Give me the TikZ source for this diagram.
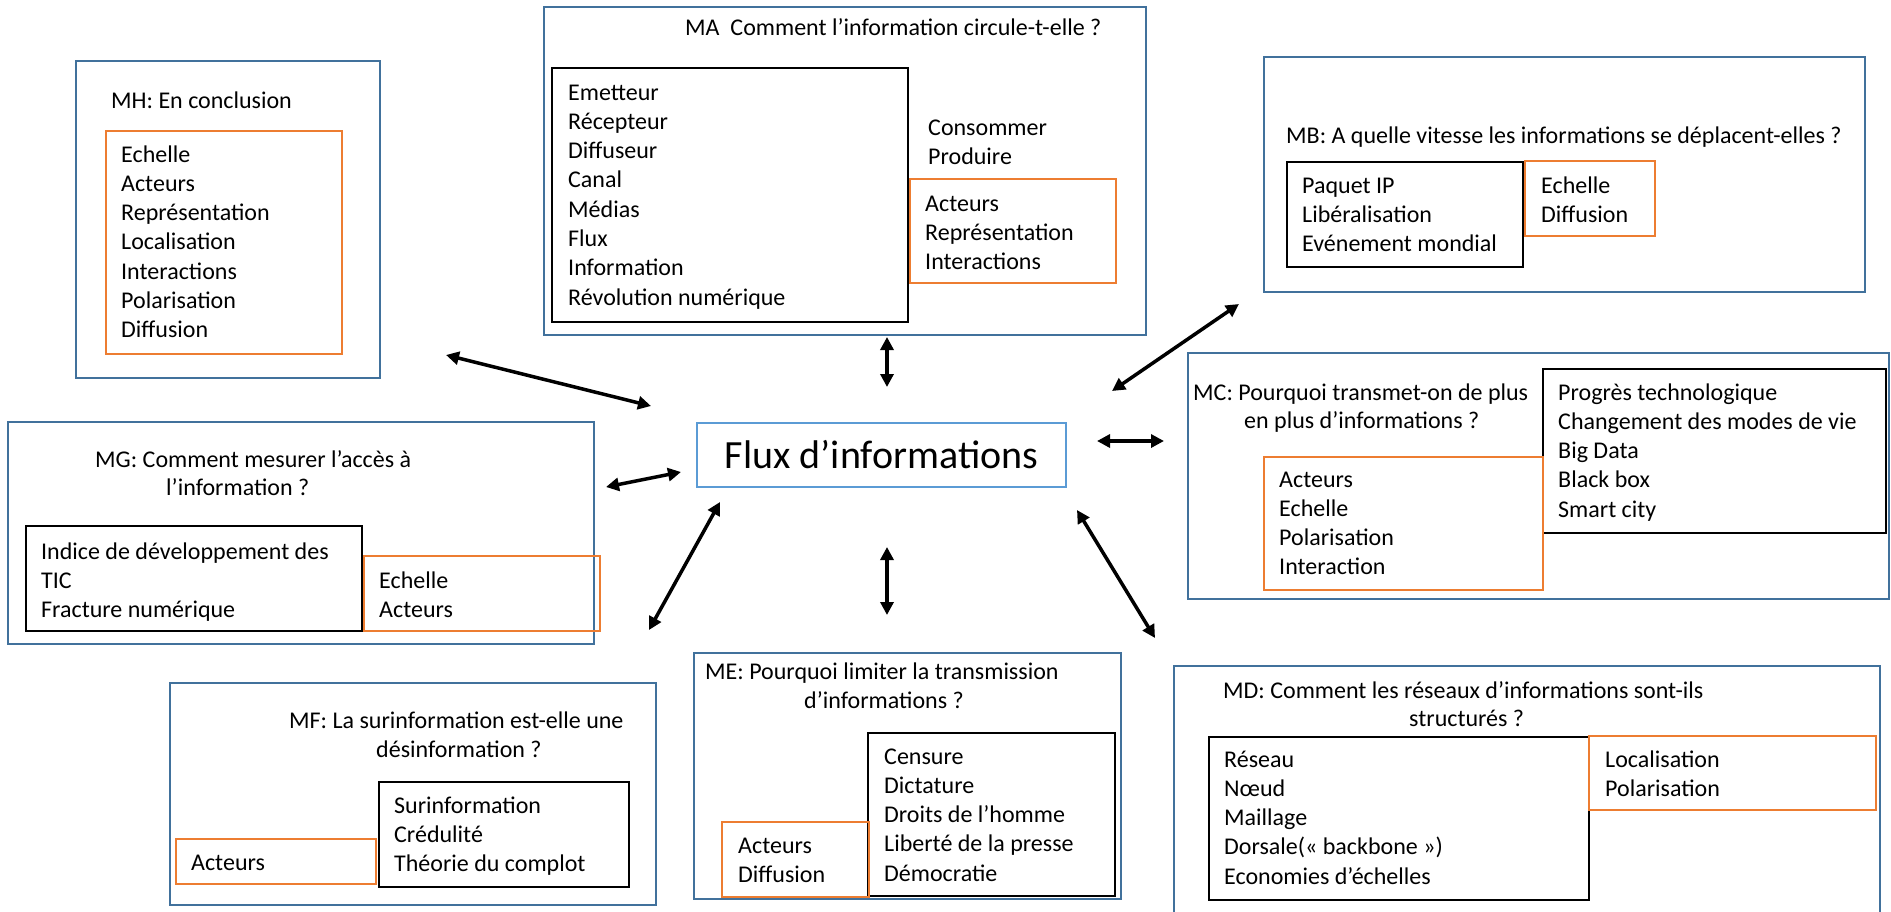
\documentclass[tikz,border=0pt]{standalone}
\usepackage{fontspec}
\setmainfont{Carlito}
\usetikzlibrary{arrows.meta}
\definecolor{boxblue}{RGB}{65,113,156}
\definecolor{boxorange}{RGB}{237,125,49}
\definecolor{fluxblue}{RGB}{91,155,213}
\tikzset{
  bluebox/.style={draw=boxblue, line width=2pt, inner sep=0pt},
  blackbox/.style={draw=black, line width=2.5pt, inner sep=0pt},
  orangebox/.style={draw=boxorange, line width=2pt, inner sep=0pt},
  fluxbox/.style={draw=fluxblue, line width=2pt, inner sep=0pt, font=\fontsize{40}{48}\selectfont},
  txt/.style={anchor=base west, inner sep=0pt, font=\fontsize{24}{29.3}\selectfont},
  dblarrow/.style={line width=3.5pt, {Triangle[length=13pt,width=13pt]}-{Triangle[length=13pt,width=13pt]}},
}
\newcommand\boxnode[6]{%
  \node[#1, minimum width={(#5)-(#3)}, minimum height={(#6)-(#4)}] (#2) at ({((#3)+(#5))/2},{((#4)+(#6))/2}) {};}
\newcommand\textlines[4]{%
  \foreach \t [count=\i from 0] in {#4} {\node[txt] (#1\i) at (#2,{#3+29.3*\i}) {\t};}}
\begin{document}
\begin{tikzpicture}[x=1pt,y=-1pt]
\fill[white] (0,0) rectangle (1891,911);
\useasboundingbox (0,0) rectangle (1891,911);
\clip (0,0) rectangle (1891,911);

% MH
\boxnode{bluebox}{MH}{76}{61}{380}{378}
\boxnode{orangebox}{MHo}{106}{131}{342}{354}
\node[txt] (MHt) at (111,108) {MH: En conclusion};
\textlines{MHl}{121}{162}{Echelle,Acteurs,Représentation,Localisation,Interactions,Polarisation,Diffusion}

% MA
\boxnode{bluebox}{MA}{544}{7}{1146}{335}
\boxnode{blackbox}{MAk}{552}{68}{908}{322}
\boxnode{orangebox}{MAo}{910}{179}{1116}{283}
\node[txt] (MAt) at (685,35) {MA\ \ Comment l’information circule-t-elle ?};
\textlines{MAl}{568}{100}{Emetteur,Récepteur,Diffuseur,Canal,Médias,Flux,Information,Révolution numérique}
\textlines{MAc}{928}{135}{Consommer,Produire}
\textlines{MAr}{925}{211}{Acteurs,Représentation,Interactions}

% MB
\boxnode{bluebox}{MB}{1264}{57}{1865}{292}
\boxnode{blackbox}{MBk}{1287}{162}{1523}{267}
\boxnode{orangebox}{MBo}{1525}{161}{1655}{236}
\node[txt] (MBt) at (1286,143) {MB: A quelle vitesse les informations se déplacent-elles ?};
\textlines{MBl}{1302}{193}{Paquet IP,Libéralisation,Evénement mondial}
\textlines{MBr}{1541}{193}{Echelle,Diffusion}

% MG
\boxnode{bluebox}{MG}{8}{422}{594}{644}
\boxnode{blackbox}{MGk}{26}{526}{362}{631}
\boxnode{orangebox}{MGo}{364}{556}{600}{631}
\node[txt] (MGt1) at (95,467) {MG: Comment mesurer l’accès à};
\node[txt] (MGt2) at (166,495) {l’information ?};
\textlines{MGl}{41}{559}{Indice de développement des,TIC,Fracture numérique}
\textlines{MGr}{379}{588}{Echelle,Acteurs}

% Centre
\node[fluxbox, minimum width=369, minimum height=64] (flux) at (881.5,455) {Flux d’informations};

% MC
\boxnode{bluebox}{MC}{1188}{353}{1889}{599}
\boxnode{blackbox}{MCk}{1543}{369}{1886}{533}
\boxnode{orangebox}{MCo}{1264}{457}{1543}{590}
\node[txt] (MCt1) at (1193,400) {MC: Pourquoi transmet-on de plus};
\node[txt] (MCt2) at (1244,428) {en plus d’informations ?};
\textlines{MCl}{1558}{400}{Progrès technologique,Changement des modes de vie,Big Data,Black box,Smart city}
\textlines{MCr}{1279}{487}{Acteurs,Echelle,Polarisation,Interaction}

% MF
\boxnode{bluebox}{MF}{170}{683}{656}{905}
\boxnode{blackbox}{MFk}{379}{782}{629}{887}
\boxnode{orangebox}{MFo}{176}{839}{376}{884}
\node[txt] (MFt1) at (289,728) {MF: La surinformation est-elle une};
\node[txt] (MFt2) at (376,757) {désinformation ?};
\textlines{MFl}{394}{813}{Surinformation,Crédulité,Théorie du complot}
\node[txt] (MFr) at (191,870) {Acteurs};

% ME
\boxnode{bluebox}{ME}{694}{653}{1121}{899}
\boxnode{blackbox}{MEk}{868}{733}{1115}{896}
\boxnode{orangebox}{MEo}{722}{822}{869}{897}
\node[txt] (MEt1) at (705,679) {ME: Pourquoi limiter la transmission};
\node[txt] (MEt2) at (804,708) {d’informations ?};
\textlines{MEl}{884}{764}{Censure,Dictature,Droits de l’homme,Liberté de la presse,Démocratie}
\textlines{MEr}{738}{853}{Acteurs,Diffusion}

% MD
\boxnode{bluebox}{MD}{1174}{666}{1880}{925}
\boxnode{blackbox}{MDk}{1209}{737}{1589}{900}
\boxnode{orangebox}{MDo}{1589}{736}{1876}{810}
\node[txt] (MDt1) at (1223,698) {MD: Comment les réseaux d’informations sont-ils};
\node[txt] (MDt2) at (1409,726) {structurés ?};
\textlines{MDl}{1224}{767}{Réseau,Nœud,Maillage,Dorsale(« backbone »),Economies d’échelles}
\textlines{MDr}{1605}{767}{Localisation,Polarisation}

% arrow ends
\coordinate (aA1) at (887,337);  \coordinate (aA2) at (887,387);
\coordinate (aB1) at (1112,391); \coordinate (aB2) at (1239,304);
\coordinate (aC1) at (1097,441); \coordinate (aC2) at (1164,441);
\coordinate (aD1) at (1077,510); \coordinate (aD2) at (1155,638);
\coordinate (aE1) at (887,547);  \coordinate (aE2) at (887,615);
\coordinate (aF1) at (720,502);  \coordinate (aF2) at (649,630);
\coordinate (aG1) at (681,472);  \coordinate (aG2) at (606,487);
\coordinate (aH1) at (651,406);  \coordinate (aH2) at (446,355);
\foreach \k in {A,B,C,D,E,F,G,H} {\draw[dblarrow] (a\k1) -- (a\k2);}
\end{tikzpicture}
\end{document}
